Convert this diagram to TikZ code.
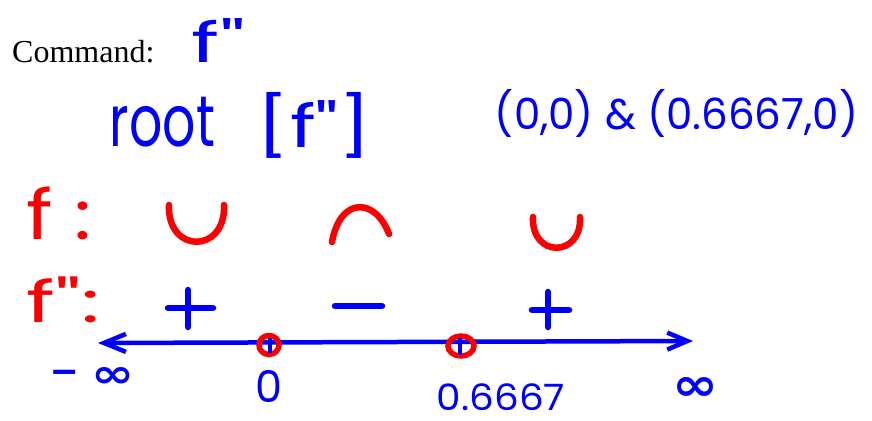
\documentclass[tikz,border=0pt]{standalone}
\usepackage{fontspec}
\setmainfont{Liberation Serif}
\newfontfamily\hand{Poppins}
\newfontfamily\symf{DejaVu Sans}
\usetikzlibrary{arrows.meta,shapes.geometric}
\definecolor{pen}{RGB}{0,0,250}
\definecolor{redpen}{RGB}{250,0,0}
\newcommand{\fitbox}[3]{\resizebox*{#1pt}{#2pt}{#3}}
\tikzset{
  bluetxt/.style={text=pen,font=\hand,inner sep=0pt},
  redtxt/.style={text=redpen,font=\hand,inner sep=0pt},
  bluesym/.style={text=pen,font=\symf\bfseries,inner sep=0pt},
  redstroke/.style={draw=redpen,line width=6.5pt,line cap=round},
  bluestroke/.style={draw=pen,line width=6.5pt,line cap=round},
  rootmark/.style={draw=redpen,line width=5.5pt,ellipse,inner sep=0pt},
  tickmark/.style={draw=pen,line width=3.5pt},
}
\begin{document}
\begin{tikzpicture}[x=1pt,y=-1pt]
\useasboundingbox (0,0) rectangle (872,420);
% header
\node[anchor=base west,inner sep=0pt,font=\fontsize{32}{32}\selectfont] (cmd) at (12,63) {Command:};
\node[bluetxt] (fpp) at (218.5,40) {\fitbox{53}{44}{f"}};
\node[bluetxt] (root) at (162.5,122) {\fitbox{105}{50}{root}};
\node[bluetxt] (rootarg) at (314.5,125) {\fitbox{115}{66}{[f"]}};
\node[bluetxt] (roots) at (676.5,113) {\fitbox{363}{48}{(0,0) \& (0.6667,0)}};
% row labels
\node[redtxt] (flab) at (59.5,213.5) {\fitbox{65}{53}{f :}};
\node[redtxt] (fpplab) at (63.5,300) {\fitbox{73}{46}{f":}};
% concavity shapes
\draw[redstroke] (169,205) .. controls (167,254) and (226,254) .. (224,205);
\draw[redstroke] (332,242) .. controls (340,197) and (375,197) .. (389,234);
\draw[redstroke] (533,217) .. controls (531,258) and (582,258) .. (580,217);
% signs
\draw[bluestroke] (168,308) -- (213,308) (188,290) -- (188,327);
\draw[bluestroke] (335,306) -- (382,306);
\draw[bluestroke] (532,310) -- (569,310) (548,292) -- (548,327);
% axis
\coordinate (L) at (98,343);
\coordinate (R) at (693,341);
\draw[draw=pen,line width=4.5pt,{Straight Barb[length=22pt,width=18pt]}-{Straight Barb[length=20pt,width=17pt]}] (L) -- (R);
\node[rootmark,minimum width=20pt,minimum height=19pt] (c0) at (269,345) {};
\node[rootmark,minimum width=26pt,minimum height=20pt] (c1) at (461,346) {};
\draw[tickmark] (270,338) -- (270,353);
\draw[tickmark] (460,338) -- (460,355);
% axis labels
\node[bluetxt,font=\hand\fontsize{55}{55}\selectfont,anchor=base] (minus) at (65.5,392) {-};
\node[bluesym] (minf) at (113.5,377) {\fitbox{43}{20}{∞}};
\node[bluetxt] (zero) at (268.5,386) {\fitbox{27}{32}{0}};
\node[bluetxt] (pt) at (501,397) {\fitbox{128}{27}{0.6667}};
\node[bluesym] (inf) at (695,388.5) {\fitbox{46}{23}{∞}};
\end{tikzpicture}
\end{document}
